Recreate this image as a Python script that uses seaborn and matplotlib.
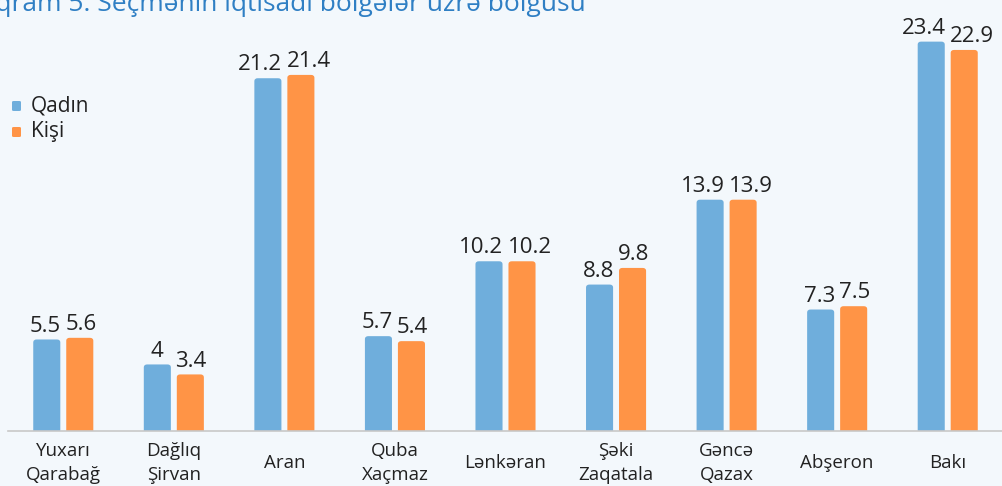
import matplotlib
matplotlib.use("Agg")
import matplotlib.pyplot as plt
from matplotlib.patches import FancyBboxPatch
import pandas as pd
import seaborn as sns

# Data
regions = ["Yuxarı\nQarabağ", "Dağlıq\nŞirvan", "Aran", "Quba\nXaçmaz", "Lənkəran",
           "Şəki\nZaqatala", "Gəncə\nQazax", "Abşeron", "Bakı"]
qadin = [5.5, 4, 21.2, 5.7, 10.2, 8.8, 13.9, 7.3, 23.4]
kisi = [5.6, 3.4, 21.4, 5.4, 10.2, 9.8, 13.9, 7.5, 22.9]
series = ["Qadın", "Kişi"]
colors = ["#6FAEDC", "#FF9446"]
bg = "#F3F8FC"

df = pd.DataFrame({
    "region": regions * 2,
    "value": qadin + kisi,
    "sex": [series[0]] * len(regions) + [series[1]] * len(regions),
})

sns.set_theme(style="white")
plt.rcParams["font.family"] = ["Open Sans", "DejaVu Sans"]

fig = plt.figure(figsize=(10.02, 4.86), dpi=100, facecolor=bg)
ax = fig.add_axes([8 / 1002, 1 - 431 / 486, 995 / 1002, 416 / 486])
ax.set_facecolor(bg)

sns.barplot(data=df, x="region", y="value", hue="sex", palette=colors,
            width=0.597, gap=0.18, saturation=1, ax=ax, legend=False)

ax.set_ylim(0, 25)
ax.set_xlim(-0.5, len(regions) - 0.5)

# swap plain rectangles for bars with rounded tops, and put value labels on top
bars = list(ax.patches)
labels = []
for p in bars:
    x, w, h = p.get_x(), p.get_width(), p.get_height()
    rb = FancyBboxPatch((x, -1), w, h + 1, boxstyle="round,pad=0,rounding_size=0.03",
                        mutation_aspect=6.0, facecolor=p.get_facecolor(),
                        edgecolor="none", clip_on=True)
    ax.add_patch(rb)
    p.set_visible(False)
    t = ax.annotate(f"{h:g}", (x + w / 2, h), xytext=(0, 2), textcoords="offset points",
                    ha="center", va="bottom", fontsize=16, color="#222222")
    labels.append(t)

for s in ["top", "right", "left"]:
    ax.spines[s].set_visible(False)
ax.spines["bottom"].set_color("#C8C8C8")
ax.spines["bottom"].set_linewidth(1.2)
ax.set_yticks([])
ax.set_xlabel("")
ax.set_ylabel("")
ax.tick_params(axis="x", length=0, pad=23, labelsize=13.5, labelcolor="#222222")
for lab in ax.get_xticklabels():
    lab.set_linespacing(1.4)
    lab.set_verticalalignment("center")

# push apart value labels of the same group that would collide
fig.canvas.draw()
r = fig.canvas.get_renderer()
n = len(regions)
for i in range(n):
    a, b = labels[i], labels[i + n]
    ea, eb = a.get_window_extent(r), b.get_window_extent(r)
    overlap = ea.x1 - eb.x0 + 4
    if overlap > 0 and ea.y0 < eb.y1 and eb.y0 < ea.y1:
        d = overlap / 2 * 0.72
        a.xyann = (-d, 2)
        b.xyann = (d, 2)

# legend in the upper left
for i, (name, c) in enumerate(zip(series, colors)):
    yy = 1 - (106 + i * 26) / 486
    fig.patches.append(FancyBboxPatch((12 / 1002, yy - 5 / 486), 9 / 1002, 10 / 486,
                                      boxstyle="round,pad=0,rounding_size=0.002",
                                      transform=fig.transFigure, facecolor=c,
                                      edgecolor="none", figure=fig))
    fig.text(31 / 1002, yy, name, fontsize=15, va="center", ha="left",
             color="#222222")

# title, clipped at the top-left edge like in the reference
fig.text(-45 / 1002, 1 - 11 / 486, "Diaqram 5. Seçmənin iqtisadi bölgələr üzrə bölgüsü",
         fontsize=19, color="#2F7FC4", va="baseline", ha="left")

fig.savefig("out.png", dpi=100, facecolor=bg)
